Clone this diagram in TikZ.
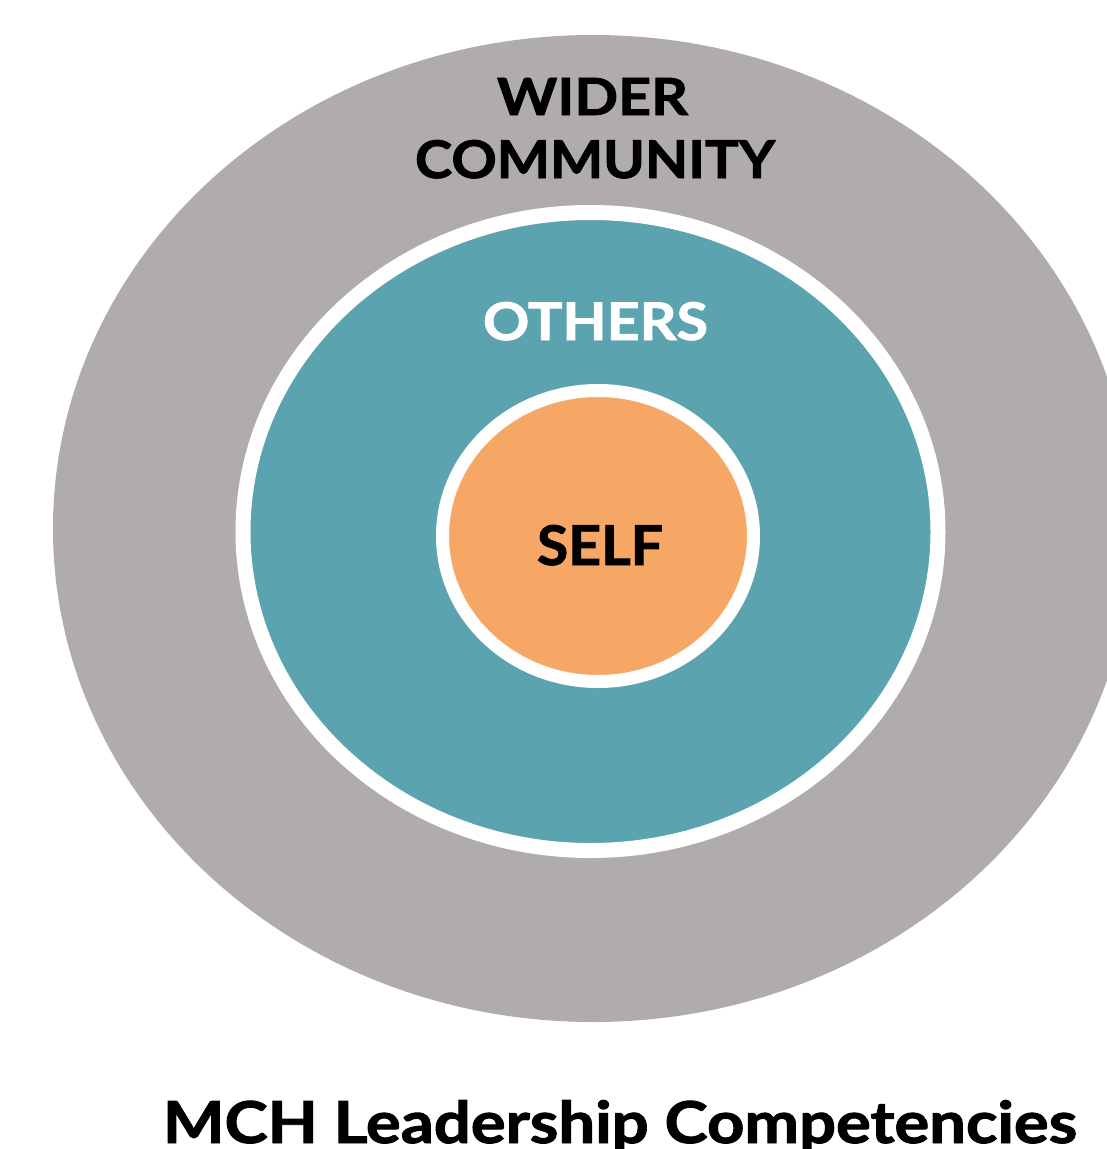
\documentclass[tikz,border=0pt]{standalone}
\usepackage{fontspec}
\usepackage{graphicx}
\newfontfamily\gill{Lato}[BoldFeatures={FakeBold=1.6}]
\definecolor{ringgray}{HTML}{AFACAB}
\definecolor{ringteal}{HTML}{5BA3AF}
\definecolor{ringorange}{HTML}{F6A765}
\tikzset{
  lbl/.style={inner sep=0pt, outer sep=0pt, anchor=base west, font=\gill\bfseries},
}
\begin{document}
\begin{tikzpicture}[x=1pt,y=-1pt]
\useasboundingbox (0,0) rectangle (1107,1149);
\begin{scope}
\clip (0,0) rectangle (1107,1149);
\fill[ringgray] (593,528.5) ellipse [x radius=540, y radius=493.5];
\end{scope}
\filldraw[fill=ringteal, draw=white, line width=15pt] (590.5,531.5) ellipse [x radius=347.5, y radius=319];
\filldraw[fill=ringorange, draw=white, line width=13pt] (598,536) ellipse [x radius=155.5, y radius=145.5];
\node[lbl, text=black] (wider) at (497,115) {\resizebox{191pt}{37pt}{WIDER}};
\node[lbl, text=black] (community) at (415,178) {\resizebox{360pt}{38pt}{COMMUNITY}};
\node[lbl, text=white] (others) at (483,340) {\resizebox{225pt}{38pt}{OTHERS}};
\node[lbl, text=black] (self) at (537,565) {\resizebox{126pt}{40pt}{SELF}};
\node[lbl, text=black] (title) at (163,1143) {\resizebox{914pt}{43pt}{MCH Leadership Competencies}};
\end{tikzpicture}
\end{document}
